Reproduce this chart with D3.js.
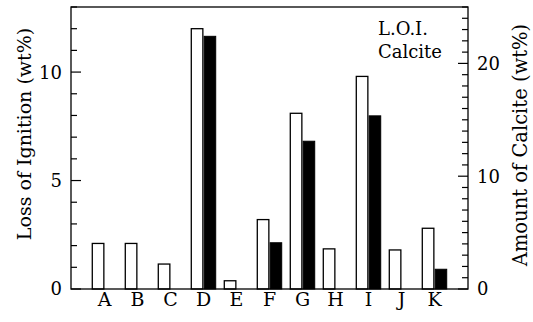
<!DOCTYPE html>
<html>
<head>
<meta charset="utf-8">
<script src="https://cdn.jsdelivr.net/npm/d3@7"></script>
<style>
  body { margin: 0; background: #fff; }
  text { font-family: "DejaVu Serif", serif; fill: #000; }
</style>
</head>
<body>
<svg id="chart" width="533" height="322"></svg>
<script>
// sample labels and the two measured series
const categories = ["A", "B", "C", "D", "E", "F", "G", "H", "I", "J", "K"];
const loiValues = [2.1, 2.1, 1.15, 12.0, 0.38, 3.2, 8.1, 1.85, 9.8, 1.8, 2.8];
const calciteValues = [0, 0, 0, 22.4, 0, 4.1, 13.1, 0, 15.35, 0, 1.75];
const leftTicks = [0, 5, 10];
const rightTicks = [0, 10, 20];
const legendLabels = ["L.O.I.", "Calcite"];

const svg = d3.select("#chart");
const plotL = 71, plotR = 468, plotT = 7, plotB = 289;

const x = d3.scaleBand().domain(categories).range([plotL, plotR])
    .paddingInner(0.26).paddingOuter(0.645);
const sub = d3.scaleBand().domain(["loi", "calcite"]).range([0, x.bandwidth()]).paddingInner(0.1);
const yL = d3.scaleLinear().domain([0, 13]).range([plotB, plotT]);
const yR = d3.scaleLinear().domain([0, 25]).range([plotB, plotT]);

// bars
const rows = categories.map((c, i) => ({ c, loi: loiValues[i], cal: calciteValues[i] }));

svg.append("g").selectAll("rect")
    .data(rows)
    .join("rect")
    .attr("x", d => x(d.c) + sub("loi"))
    .attr("width", sub.bandwidth())
    .attr("y", d => yL(d.loi))
    .attr("height", d => plotB - yL(d.loi))
    .attr("fill", "#fff")
    .attr("stroke", "#000")
    .attr("stroke-width", 1.3);

svg.append("g").selectAll("rect")
    .data(rows.filter(d => d.cal > 0))
    .join("rect")
    .attr("x", d => x(d.c) + sub("calcite"))
    .attr("width", sub.bandwidth())
    .attr("y", d => yR(d.cal))
    .attr("height", d => plotB - yR(d.cal))
    .attr("fill", "#000")
    .attr("stroke", "#000")
    .attr("stroke-width", 1);

// frame
svg.append("rect")
    .attr("x", plotL).attr("y", plotT)
    .attr("width", plotR - plotL).attr("height", plotB - plotT)
    .attr("fill", "none").attr("stroke", "#000").attr("stroke-width", 1.3);

// left axis: ticks pointing inward
const gl = svg.append("g").attr("transform", `translate(${plotL},0)`);
gl.selectAll("line")
    .data(d3.range(0, 14))
    .join("line")
    .attr("x1", 0).attr("x2", d => d % 5 === 0 ? 10 : 6)
    .attr("y1", d => yL(d)).attr("y2", d => yL(d))
    .attr("stroke", "#000").attr("stroke-width", 1.2);
gl.selectAll("text")
    .data(leftTicks)
    .join("text")
    .attr("x", -9).attr("y", d => yL(d))
    .attr("dy", "0.36em")
    .attr("text-anchor", "end")
    .attr("font-size", 18)
    .text(d => d);

// right axis
const gr = svg.append("g").attr("transform", `translate(${plotR},0)`);
gr.selectAll("line")
    .data(d3.range(0, 26))
    .join("line")
    .attr("x1", 0).attr("x2", d => d % 10 === 0 ? -10 : -6)
    .attr("y1", d => yR(d)).attr("y2", d => yR(d))
    .attr("stroke", "#000").attr("stroke-width", 1.2);
gr.selectAll("text")
    .data(rightTicks)
    .join("text")
    .attr("x", 9).attr("y", d => yR(d))
    .attr("dy", "0.36em")
    .attr("text-anchor", "start")
    .attr("font-size", 18)
    .text(d => d);

// category labels
svg.append("g").selectAll("text")
    .data(categories)
    .join("text")
    .attr("x", d => x(d) + x.bandwidth() / 2)
    .attr("y", 306)
    .attr("text-anchor", "middle")
    .attr("font-size", 19)
    .text(d => d);

// axis titles
svg.append("text")
    .attr("transform", "translate(24,134) rotate(-90)")
    .attr("dy", "0.35em")
    .attr("text-anchor", "middle")
    .attr("font-size", 19)
    .text("Loss of Ignition (wt%)");

svg.append("text")
    .attr("transform", "translate(520,145) rotate(-90)")
    .attr("dy", "0.35em")
    .attr("text-anchor", "middle")
    .attr("font-size", 19.5)
    .text("Amount of Calcite (wt%)");

// legend text
svg.append("g").selectAll("text")
    .data(legendLabels)
    .join("text")
    .attr("x", 378)
    .attr("y", (d, i) => 35 + i * 23)
    .attr("font-size", 18)
    .text(d => d);
</script>
</body>
</html>
